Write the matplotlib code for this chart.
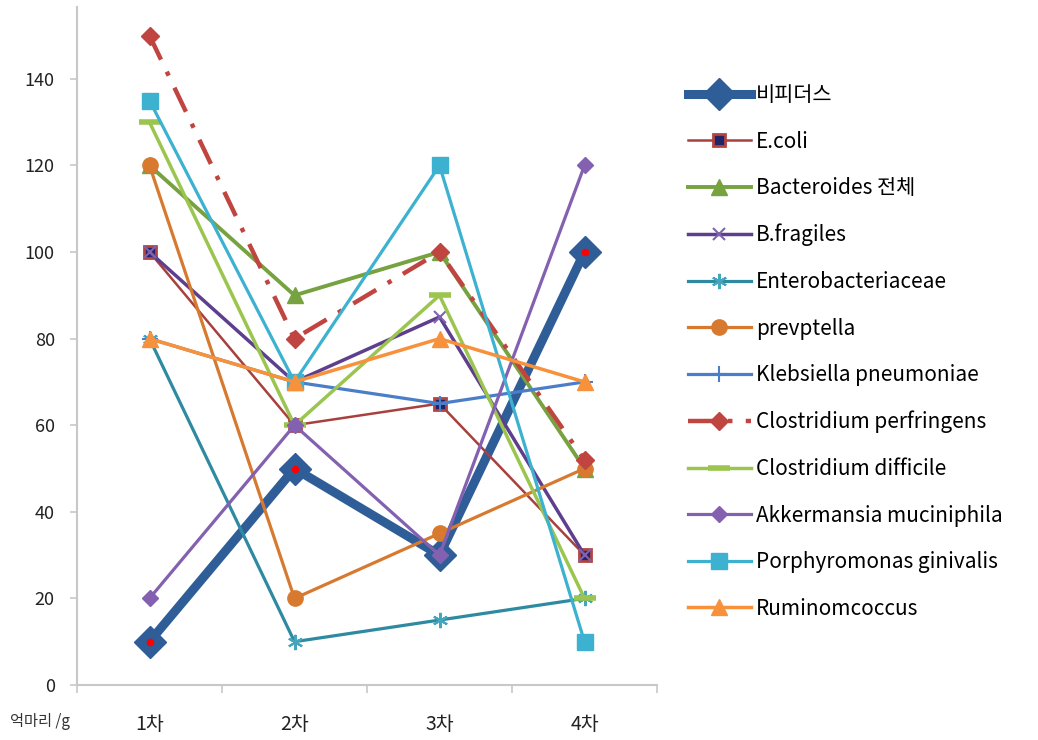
import matplotlib
matplotlib.use('Agg')
import matplotlib.pyplot as plt
from matplotlib.ticker import FixedLocator

plt.rcParams['font.family'] = ['Noto Sans CJK KR', 'DejaVu Sans']

# 데이터
rounds = ['1차', '2차', '3차', '4차']
bifidus = [10, 50, 30, 100]
ecoli = [100, 60, 65, 30]
bacteroides = [120, 90, 100, 50]
bfragiles = [100, 70, 85, 30]
entero = [80, 10, 15, 20]
prevotella = [120, 20, 35, 50]
klebsiella = [80, 70, 65, 70]
perfringens = [150, 80, 100, 52]
difficile = [130, 60, 90, 20]
akkermansia = [20, 60, 30, 120]
porphyromonas = [135, 70, 120, 10]
ruminococcus = [80, 70, 80, 70]

x = list(range(len(rounds)))

fig = plt.figure(figsize=(10.38, 7.40), dpi=100)
ax = fig.add_axes([77/1038, 1-685/740, 580/1038, 678/740])

ax.plot(x, bifidus, color='#2F5D97', lw=6.5, marker='D', ms=16, mfc='#2F5D97', mec='#2F5D97',
        label='비피더스', zorder=2)
ax.plot(x, bifidus, ls='none', marker='o', ms=4.5, color='red', zorder=2.1)
ax.plot(x, ecoli, color='#A8403D', lw=1.8, marker='s', ms=8, mfc='#1F2566', mec='#B24441', mew=2,
        label='E.coli', zorder=3)
ax.plot(x, bacteroides, color='#76A23F', lw=2.8, marker='^', ms=11, label='Bacteroides 전체', zorder=3)
ax.plot(x, bfragiles, color='#5E3F8E', lw=2.5, marker='x', ms=9, mew=1.5, mec='#7F63B0',
        label='B.fragiles', zorder=3)
ax.plot(x, entero, color='#2E8AA0', lw=2.3, marker=(6, 2, 0), ms=11, mew=1.5, mec='#45A5BC',
        label='Enterobacteriaceae', zorder=3)
ax.plot(x, prevotella, color='#D77A30', lw=2.3, marker='o', ms=11, label='prevptella', zorder=3)
ax.plot(x, klebsiella, color='#4A7EC8', lw=2.3, marker='+', ms=11, mew=1.5,
        label='Klebsiella pneumoniae', zorder=3)
ax.plot(x, perfringens, color='#C0443F', lw=3.2, ls=(0, (6, 3, 1, 3)), marker='D', ms=9,
        label='Clostridium perfringens', zorder=3)
ax.plot(x, difficile, color='#9BC54F', lw=2.5, marker='_', ms=16, mew=4,
        label='Clostridium difficile', zorder=3)
ax.plot(x, akkermansia, color='#8461B0', lw=2.3, marker='D', ms=8, label='Akkermansia muciniphila', zorder=3)
ax.plot(x, porphyromonas, color='#3CB1D0', lw=2.3, marker='s', ms=12,
        label='Porphyromonas ginivalis', zorder=3)
ax.plot(x, ruminococcus, color='#F7913C', lw=2.5, marker='^', ms=12, label='Ruminomcoccus', zorder=3)

ax.set_xlim(-0.5, 3.5)
ax.set_ylim(0, 156.6)
ax.set_yticks([0, 20, 40, 60, 80, 100, 120, 140])
ax.set_xticks(x)
ax.set_xticklabels(rounds)
ax.xaxis.set_minor_locator(FixedLocator([-0.5, 0.5, 1.5, 2.5, 3.5]))

for s in ['top', 'right']:
    ax.spines[s].set_visible(False)
for s in ['left', 'bottom']:
    ax.spines[s].set_color('#C8C8C8')
    ax.spines[s].set_linewidth(1.5)

ax.tick_params(axis='y', length=5, width=1.2, color='#C8C8C8', labelsize=13, labelcolor='#222222', pad=11)
ax.tick_params(axis='x', which='major', length=0, labelsize=14, labelcolor='#222222', pad=21)
ax.tick_params(axis='x', which='minor', length=6, width=1.2, color='#C8C8C8')

fig.text(10/1038, 1-722/740, '억마리 /g', fontsize=11, color='#333333', va='center', ha='left')

leg = ax.legend(loc='upper left', bbox_to_anchor=(688/1038, 1-84/740), bbox_transform=fig.transFigure,
                frameon=False, fontsize=15, labelspacing=1.18, handlelength=3.0, handletextpad=0.25,
                borderpad=0, borderaxespad=0)

fig.savefig('out.png', dpi=100)
